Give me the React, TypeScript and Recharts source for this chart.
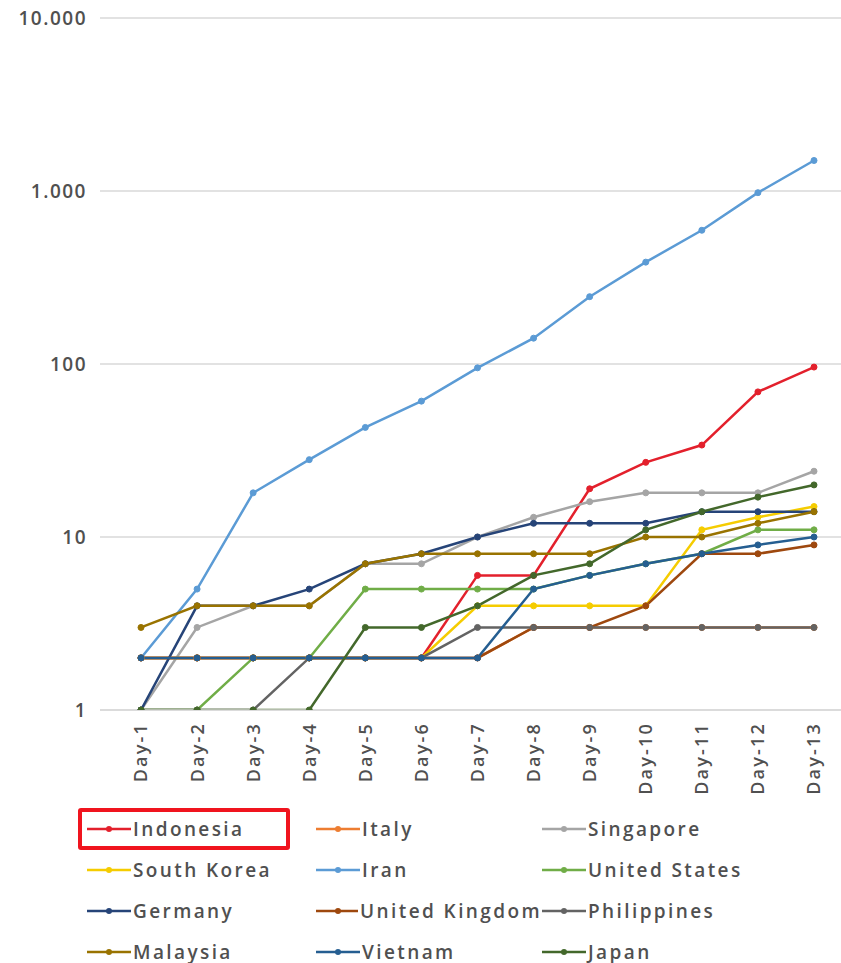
import { LineChart, Line, XAxis, YAxis, CartesianGrid, Legend } from "recharts";

const days = [
  "Day-1", "Day-2", "Day-3", "Day-4", "Day-5", "Day-6", "Day-7",
  "Day-8", "Day-9", "Day-10", "Day-11", "Day-12", "Day-13",
];

// cases per day
const indonesia = [2, 2, 2, 2, 2, 2, 6, 6, 19, 27, 34, 69, 96];
const italy = [2, 2, 2, 2, 2, 2, 2, 3, 3, 3, 3, 3, 3];
const singapore = [1, 3, 4, 4, 7, 7, 10, 13, 16, 18, 18, 18, 24];
const southKorea = [2, 2, 2, 2, 2, 2, 4, 4, 4, 4, 11, 13, 15];
const iran = [2, 5, 18, 28, 43, 61, 95, 141, 245, 388, 593, 978, 1501];
const unitedStates = [1, 1, 2, 2, 5, 5, 5, 5, 6, 7, 8, 11, 11];
const germany = [1, 4, 4, 5, 7, 8, 10, 12, 12, 12, 14, 14, 14];
const unitedKingdom = [2, 2, 2, 2, 2, 2, 2, 3, 3, 4, 8, 8, 9];
const philippines = [1, 1, 1, 2, 2, 2, 3, 3, 3, 3, 3, 3, 3];
const malaysia = [3, 4, 4, 4, 7, 8, 8, 8, 8, 10, 10, 12, 14];
const vietnam = [2, 2, 2, 2, 2, 2, 2, 5, 6, 7, 8, 9, 10];
const japan = [1, 1, 1, 1, 3, 3, 4, 6, 7, 11, 14, 17, 20];

const yTicks = [1, 10, 100, 1000, 10000];
const yTickLabels = ["1", "10", "100", "1.000", "10.000"];

const series = [
  { key: "indonesia", name: "Indonesia", values: indonesia, color: "#E3202C" },
  { key: "italy", name: "Italy", values: italy, color: "#ED7D31" },
  { key: "singapore", name: "Singapore", values: singapore, color: "#A5A5A5" },
  { key: "southKorea", name: "South Korea", values: southKorea, color: "#F5CC00" },
  { key: "iran", name: "Iran", values: iran, color: "#5B9BD5" },
  { key: "unitedStates", name: "United States", values: unitedStates, color: "#70AD47" },
  { key: "germany", name: "Germany", values: germany, color: "#264478" },
  { key: "unitedKingdom", name: "United Kingdom", values: unitedKingdom, color: "#9E480E" },
  { key: "philippines", name: "Philippines", values: philippines, color: "#636363" },
  { key: "malaysia", name: "Malaysia", values: malaysia, color: "#997300" },
  { key: "vietnam", name: "Vietnam", values: vietnam, color: "#255E91" },
  { key: "japan", name: "Japan", values: japan, color: "#43682B" },
];

const data = days.map((day, i) => {
  const row: Record<string, string | number> = { day };
  series.forEach((s) => {
    row[s.key] = s.values[i];
  });
  return row;
});

const textColor = "#505050";
const font = "'Open Sans', sans-serif";

const DayTick = (props: any) => {
  const { x, y, payload } = props;
  return (
    <g transform={`translate(${x},${y})`}>
      <text
        transform="rotate(-90)"
        textAnchor="end"
        dy="0.36em"
        fill={textColor}
        fontSize={18}
        fontWeight={600}
        letterSpacing={2.2}
        fontFamily={font}
      >
        {payload.value}
      </text>
    </g>
  );
};

// legend keeps the series order (Excel style, row by row)
const renderLegend = () => (
  <div style={{ position: "relative", width: 841, fontFamily: font }}>
    <div
      style={{
        position: "absolute",
        left: 78,
        top: 0,
        width: 212,
        height: 42,
        border: "4px solid #F0141E",
        borderRadius: 3,
        boxSizing: "border-box",
      }}
    />
    <div
      style={{
        display: "grid",
        gridTemplateColumns: "229px 226px 250px",
        paddingLeft: 87,
      }}
    >
      {series.map((s) => (
        <div key={s.key} style={{ display: "flex", alignItems: "center", height: 41 }}>
          <svg width={44} height={10} style={{ marginRight: 2 }}>
            <line x1={0} y1={5} x2={44} y2={5} stroke={s.color} strokeWidth={2.5} />
            <circle cx={22} cy={5} r={3} fill={s.color} />
          </svg>
          <span
            style={{
              color: textColor,
              fontSize: 19,
              fontWeight: 600,
              letterSpacing: 2.4,
              whiteSpace: "nowrap",
            }}
          >
            {s.name}
          </span>
        </div>
      ))}
    </div>
  </div>
);

export default function App() {
  return (
    <div style={{ width: 841, height: 963, background: "#fff" }}>
      <style>{"body{margin:0}"}</style>
      <LineChart
        width={841}
        height={963}
        data={data}
        margin={{ top: 18, right: 0, bottom: 163, left: 0 }}
      >
        <CartesianGrid vertical={false} stroke="#D9D9D9" strokeWidth={1.5} />
        <XAxis
          dataKey="day"
          interval={0}
          tickLine={false}
          axisLine={{ stroke: "#D9D9D9", strokeWidth: 1.5 }}
          padding={{ left: 41, right: 27 }}
          height={90}
          tickSize={0}
          tickMargin={12}
          tick={<DayTick />}
        />
        <YAxis
          scale="log"
          domain={[1, 10000]}
          ticks={yTicks}
          allowDataOverflow
          width={100}
          axisLine={false}
          tickLine={false}
          tickSize={0}
          tickMargin={13}
          tickFormatter={(v: number) => yTickLabels[yTicks.indexOf(v)] ?? String(v)}
          tick={{
            fill: textColor,
            fontSize: 19,
            fontWeight: 600,
            fontFamily: font,
            letterSpacing: 1.5,
          }}
        />
        <Legend
          layout="horizontal"
          verticalAlign="middle"
          align="center"
          wrapperStyle={{ top: 808, left: 0, width: 841 }}
          content={renderLegend}
        />
        {series.map((s) => (
          <Line
            key={s.key}
            type="linear"
            dataKey={s.key}
            name={s.name}
            stroke={s.color}
            strokeWidth={2.5}
            dot={{ r: 3, fill: s.color, stroke: s.color, strokeWidth: 1 }}
            isAnimationActive={false}
          />
        ))}
      </LineChart>
    </div>
  );
}
